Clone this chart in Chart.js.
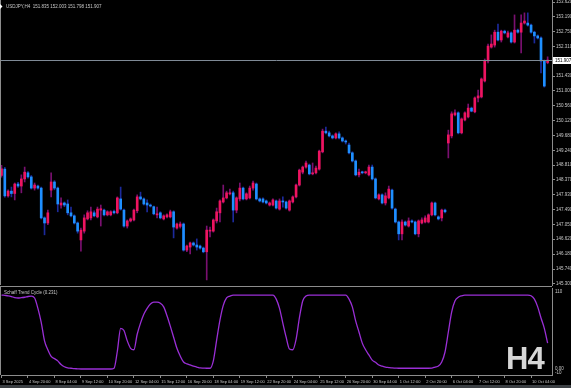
<!DOCTYPE html>
<html>
<head>
<meta charset="utf-8">
<script src="https://cdn.jsdelivr.net/npm/chart.js@4.4.1/dist/chart.umd.min.js"></script>
<style>
html, body { margin: 0; padding: 0; background: #000; overflow: hidden; }
#wrap { position: relative; width: 571px; height: 388px; background: #000; }
#price { position: absolute; left: 0; top: 0; }
#stc { position: absolute; left: 0; top: 287px; }
#h4 { position: absolute; left: 506px; top: 341px; font: bold 31px "Liberation Sans", Arial, sans-serif; color: #d6d6d6; letter-spacing: -1px; }
#strip { position: absolute; left: 0; top: 385px; width: 571px; height: 3px; background: #3c4044; }
</style>
</head>
<body>
<div id="wrap">
  <canvas id="price" width="571" height="287"></canvas>
  <canvas id="stc" width="571" height="101"></canvas>
  <div id="h4">H4</div>
  <div id="strip"></div>
</div>
<script>
// USDJPY H4, 3 Sep 2025 12:00 .. current bar
var opens = [148.50,148.69,147.90,148.04,147.97,148.25,148.19,148.40,148.58,148.46,
  148.13,148.19,148.13,147.25,147.10,148.07,148.31,148.13,147.63,147.69,
  147.66,147.40,147.31,147.10,146.60,146.86,147.22,147.25,147.40,147.28,
  147.48,147.48,147.34,147.34,147.44,147.40,147.81,147.48,147.01,147.16,
  147.19,147.46,147.87,147.81,147.69,147.63,147.58,147.34,147.40,147.22,
  147.28,147.28,147.43,146.95,147.00,147.07,146.30,146.39,146.51,146.45,
  146.42,146.36,146.25,146.86,146.86,147.16,147.40,147.72,147.84,147.96,
  147.99,147.48,147.81,148.13,147.81,147.84,148.13,148.25,147.81,147.81,
  147.75,147.63,147.63,147.75,147.51,147.75,147.72,147.48,147.72,147.87,
  148.22,148.60,148.75,148.81,148.55,148.58,148.69,149.20,149.81,149.76,
  149.67,149.61,149.73,149.61,149.52,149.40,149.17,148.93,148.52,148.60,
  148.58,148.52,148.75,148.40,147.81,147.93,147.69,147.84,148.07,147.51,
  147.13,146.78,147.13,147.01,147.16,147.13,146.78,147.10,147.13,147.13,
  147.34,147.69,147.28,147.25,147.48,149.46,149.67,150.29,150.35,149.76,
  150.14,150.23,150.49,150.38,150.79,150.82,151.29,151.88,152.29,152.35,
  152.73,152.50,152.76,152.59,152.71,152.44,152.79,152.73,153.00,153.00,
  152.94,152.73,152.62,152.56,151.88,151.835];
var highs = [148.80,148.74,148.08,148.16,148.28,148.30,148.52,148.75,148.62,148.50,
  148.28,148.22,148.16,147.28,147.48,148.58,148.35,148.16,147.84,147.72,
  147.78,147.57,147.34,147.13,146.95,147.34,147.46,147.57,147.46,147.57,
  147.63,147.51,147.46,147.46,147.48,147.87,148.16,147.51,147.19,147.25,
  147.51,147.93,148.01,147.84,147.78,147.66,147.60,147.57,147.43,147.34,
  147.37,147.48,147.46,147.10,147.13,147.10,146.45,146.54,146.54,146.63,
  146.45,146.39,147.01,146.98,147.22,147.54,147.78,148.22,148.04,148.10,
  148.04,147.87,148.28,148.16,147.99,148.19,148.34,148.28,147.84,147.84,
  147.78,147.72,147.81,147.78,147.81,147.87,147.75,147.78,147.90,148.25,
  148.69,148.78,148.93,148.84,148.87,148.78,149.25,149.87,149.93,149.81,
  149.70,149.76,149.79,149.64,149.55,149.46,149.20,148.96,148.69,148.63,
  148.63,148.81,148.81,148.43,147.96,147.96,147.99,148.19,148.10,147.54,
  147.16,147.19,147.16,147.25,147.19,147.16,147.19,147.25,147.31,147.37,
  147.72,147.72,147.31,147.51,147.51,149.84,150.38,150.44,150.38,150.20,
  150.38,150.61,150.52,150.82,151.02,151.38,151.94,152.38,152.65,152.79,
  152.97,152.79,152.79,152.76,152.74,153.24,152.82,153.24,153.30,153.30,
  152.97,152.76,152.65,152.59,151.91,152.003];
var lows = [148.45,147.86,147.86,147.87,147.78,148.15,147.99,148.31,148.42,148.10,
  148.07,148.10,147.22,146.75,147.05,147.87,148.08,147.43,147.54,147.58,
  147.34,147.28,147.07,146.80,146.27,146.80,147.19,147.19,147.28,147.25,
  147.01,147.31,147.31,147.31,147.37,147.37,147.48,146.98,146.95,147.13,
  147.16,147.40,147.78,147.63,147.43,147.57,147.34,147.25,147.22,147.19,
  147.25,147.25,146.66,146.92,146.95,146.27,146.25,146.19,146.42,146.30,
  146.33,146.22,145.42,146.69,146.83,147.10,147.13,147.69,147.81,147.93,
  147.13,147.40,147.75,147.78,147.78,147.81,148.07,147.78,147.72,147.69,
  147.66,147.60,147.60,147.51,147.48,147.57,147.51,147.45,147.69,147.84,
  148.19,148.55,148.72,148.52,148.52,148.55,148.66,149.17,149.73,149.64,
  149.58,149.58,149.58,149.49,149.43,149.14,148.90,148.49,148.46,148.55,
  148.55,148.49,148.37,147.81,147.78,147.66,147.63,147.81,147.51,147.10,
  146.60,146.60,147.01,146.98,147.10,146.75,146.69,147.07,147.10,147.10,
  147.31,147.31,147.19,147.16,147.40,149.02,149.61,150.26,149.73,149.73,
  150.11,150.20,150.38,150.35,150.67,150.79,151.26,151.82,152.26,152.29,
  152.47,152.44,152.68,152.56,152.41,152.41,152.70,152.12,152.97,152.91,
  152.70,152.41,152.53,151.53,151.11,151.798];
var closes = [148.70,147.90,148.04,147.97,148.25,148.19,148.40,148.60,148.46,148.13,
  148.22,148.13,147.25,147.10,147.40,148.31,148.13,147.66,147.69,147.63,
  147.40,147.31,147.10,146.86,146.89,147.25,147.40,147.43,147.31,147.51,
  147.52,147.34,147.43,147.43,147.40,147.84,147.51,147.01,147.16,147.22,
  147.48,147.87,147.81,147.66,147.63,147.60,147.37,147.37,147.25,147.31,
  147.34,147.43,146.98,147.07,147.07,146.30,146.42,146.51,146.45,146.39,
  146.36,146.25,146.89,146.89,147.19,147.43,147.75,147.84,147.99,147.99,
  147.48,147.84,148.13,147.81,147.96,148.13,148.28,147.81,147.75,147.72,
  147.69,147.69,147.78,147.54,147.75,147.72,147.54,147.75,147.87,148.22,
  148.66,148.75,148.87,148.55,148.58,148.72,149.22,149.81,149.76,149.67,
  149.61,149.73,149.61,149.52,149.49,149.17,148.93,148.52,148.60,148.58,
  148.60,148.75,148.40,147.84,147.93,147.69,147.90,148.10,147.54,147.13,
  146.78,147.13,147.04,147.16,147.13,146.78,147.16,147.19,147.25,147.34,
  147.69,147.34,147.22,147.48,147.43,149.70,150.32,150.35,149.76,150.17,
  150.35,150.49,150.40,150.79,150.85,151.35,151.88,152.32,152.38,152.73,
  152.50,152.76,152.71,152.71,152.44,152.79,152.73,153.00,153.06,152.94,
  152.73,152.62,152.56,151.88,151.14,151.907];

// Schaff Trend Cycle values per bar
var stc = [100,99.5,99,98,96.5,96,96.5,97,98,98.5,
  96,82,63,38,26,17,14,11,6,3,
  1.5,1,0.5,0.3,0,0,0,0,0,0,
  0,0,0,0,1,24,55,52,38,28,
  26,47,62,74,82,88,90.5,90.5,89,84,
  72,58,43,28,17.5,9.5,7,5.5,4,2.7,
  1.4,1.2,1,1,11,39,66,86,96,98.5,
  100,100,100,100,100,100,100,100,100,100,
  100,100,100,94.5,82,62,43,27,26,40,
  69,92,98.6,100,100,100,100,100,100,100,
  100,100,100,100,100,94.5,84,65,50,35,
  26,19,12,9,5.4,4,2.7,2,1.4,1.2,
  1,1,1,1,1,1,1,1,1,1,
  1.2,2.7,4,9.5,23,50,77,92,97,99,
  100,100,100,100,100,100,100,100,100,100,
  100,100,100,100,100,100,100,100,100,100,
  99,94.5,84,69,55,35];

var tickLabels = ['3 Sep 2025','4 Sep 20:00','8 Sep 04:00','9 Sep 12:00','10 Sep 20:00','12 Sep 04:00',
  '15 Sep 12:00','16 Sep 20:00','18 Sep 04:00','19 Sep 12:00','22 Sep 20:00','24 Sep 04:00',
  '25 Sep 12:00','26 Sep 20:00','30 Sep 04:00','1 Oct 12:00','2 Oct 20:00','6 Oct 04:00',
  '7 Oct 12:00','8 Oct 20:00','10 Oct 04:00'];
var priceTicks = [153.62,153.19,152.75,152.31,151.43,151.00,150.56,150.12,149.68,149.24,
  148.81,148.37,147.93,147.49,147.05,146.62,146.18,145.74,145.30];
var symbol = 'USDJPY,H4';
var lastQuote = [151.835, 152.003, 151.798, 151.907];
var stcTitle = 'Schaff Trend Cycle (0.231)';
var stcScaleLabels = ['110', '0.00', '-10'];

var fontFam = '"Liberation Sans", Arial, sans-serif';
var txtCol = '#c8c8c8';
var axisCol = '#8c8c8c';
var bull = '#ee1460', bear = '#1e8fff';
var bullWick = '#7a1070', bearWick = '#1c2a9c';

var idx = opens.map(function (o, i) { return i; });
var isUp = function (i) { return closes[i] >= opens[i]; };

var priceOverlay = {
  id: 'priceOverlay',
  afterDraw: function (chart) {
    var ctx = chart.ctx, a = chart.chartArea, y = chart.scales.y;
    var py = Math.round(y.getPixelForValue(lastQuote[3])) + 0.5;
    ctx.save();
    ctx.lineWidth = 1;
    ctx.strokeStyle = '#7f8a96';
    ctx.beginPath(); ctx.moveTo(a.left, py); ctx.lineTo(a.right, py); ctx.stroke();
    ctx.fillStyle = '#ffffff';
    ctx.fillRect(a.right + 1, py - 3.5, 18, 7);
    ctx.font = '4.5px ' + fontFam;
    ctx.textBaseline = 'middle';
    ctx.fillStyle = '#000';
    ctx.fillText(lastQuote[3].toFixed(3), a.right + 3, py);
    ctx.strokeStyle = axisCol;
    ctx.beginPath(); ctx.moveTo(0.5, 0); ctx.lineTo(0.5, a.bottom); ctx.stroke();
    ctx.beginPath(); ctx.moveTo(0, 286.5); ctx.lineTo(a.right, 286.5); ctx.stroke();
    ctx.fillStyle = txtCol;
    ctx.fillText(symbol + '  ' + lastQuote.map(function (v) { return v.toFixed(3); }).join(' '), 6, 7);
    ctx.fillStyle = '#fff';
    ctx.beginPath(); ctx.moveTo(0, 4); ctx.lineTo(2.5, 6.5); ctx.lineTo(0, 9); ctx.fill();
    ctx.restore();
  }
};

new Chart(document.getElementById('price'), {
  type: 'bar',
  data: {
    datasets: [
      {
        label: 'wick',
        data: idx.map(function (i) { return { x: i, y: [lows[i], highs[i]] }; }),
        backgroundColor: idx.map(function (i) { return isUp(i) ? bullWick : bearWick; }),
        barThickness: 1,
        grouped: false,
        order: 2
      },
      {
        label: 'body',
        data: idx.map(function (i) { return { x: i, y: [opens[i], closes[i]] }; }),
        backgroundColor: idx.map(function (i) { return isUp(i) ? bull : bear; }),
        barThickness: 2,
        minBarLength: 1,
        grouped: false,
        order: 1
      }
    ]
  },
  options: {
    responsive: false,
    animation: false,
    devicePixelRatio: 1,
    layout: { padding: { left: 1, top: 0, right: 0, bottom: 2 } },
    plugins: { legend: { display: false }, tooltip: { enabled: false } },
    scales: {
      x: { type: 'linear', min: -0.15, max: 166.32, offset: false, display: false },
      y: {
        position: 'right',
        min: 145.27,
        max: 153.68,
        grid: { drawOnChartArea: false, color: axisCol, tickLength: 3 },
        border: { color: axisCol },
        ticks: {
          color: txtCol,
          font: { family: fontFam, size: 4.5 },
          padding: 1,
          autoSkip: false,
          callback: function (v) { return Number(v).toFixed(3); }
        },
        afterBuildTicks: function (s) { s.ticks = priceTicks.map(function (v) { return { value: v }; }); },
        afterFit: function (s) { s.width = 19; s.paddingTop = 0; s.paddingBottom = 0; }
      }
    }
  },
  plugins: [priceOverlay]
});

var stcOverlay = {
  id: 'stcOverlay',
  afterDraw: function (chart) {
    var ctx = chart.ctx, a = chart.chartArea, y = chart.scales.y;
    ctx.save();
    ctx.font = '4.5px ' + fontFam;
    ctx.textBaseline = 'middle';
    ctx.fillStyle = txtCol;
    ctx.fillText(stcTitle, 4, a.top + 5);
    ctx.fillText(stcScaleLabels[0], a.right + 3, y.getPixelForValue(y.max) + 3.5);
    ctx.fillText(stcScaleLabels[1], a.right + 3, y.getPixelForValue(0));
    ctx.fillText(stcScaleLabels[2], a.right + 3, y.getPixelForValue(y.min) - 2);
    ctx.strokeStyle = axisCol;
    ctx.lineWidth = 1;
    ctx.beginPath(); ctx.moveTo(0.5, 0); ctx.lineTo(0.5, a.bottom); ctx.stroke();
    ctx.restore();
  }
};

new Chart(document.getElementById('stc'), {
  type: 'line',
  data: {
    datasets: [{
      label: stcTitle,
      data: idx.map(function (i) { return { x: i, y: stc[i] }; }),
      borderColor: '#9a2fd6',
      borderWidth: 1.3,
      pointRadius: 0,
      cubicInterpolationMode: 'monotone',
      fill: false
    }]
  },
  options: {
    responsive: false,
    animation: false,
    devicePixelRatio: 1,
    layout: { padding: { left: 1, top: 1, right: 0, bottom: 0 } },
    plugins: { legend: { display: false }, tooltip: { enabled: false } },
    scales: {
      x: {
        type: 'linear',
        min: -0.15,
        max: 166.32,
        grid: { drawOnChartArea: false, color: axisCol, tickLength: 3 },
        border: { color: axisCol },
        ticks: {
          color: txtCol,
          font: { family: fontFam, size: 4 },
          padding: 1,
          align: 'start',
          labelOffset: 1,
          autoSkip: false,
          maxRotation: 0,
          callback: function (v, i) { return tickLabels[i]; }
        },
        afterBuildTicks: function (s) { s.ticks = tickLabels.map(function (t, i) { return { value: i * 8 }; }); },
        afterFit: function (s) { s.height = 13; s.paddingLeft = 0; s.paddingRight = 0; }
      },
      y: {
        position: 'right',
        min: -8.1,
        max: 109.5,
        grid: { display: true, drawOnChartArea: false, drawTicks: false },
        border: { color: axisCol },
        ticks: { display: false },
        afterFit: function (s) { s.width = 19; }
      }
    }
  },
  plugins: [stcOverlay]
});
</script>
</body>
</html>
